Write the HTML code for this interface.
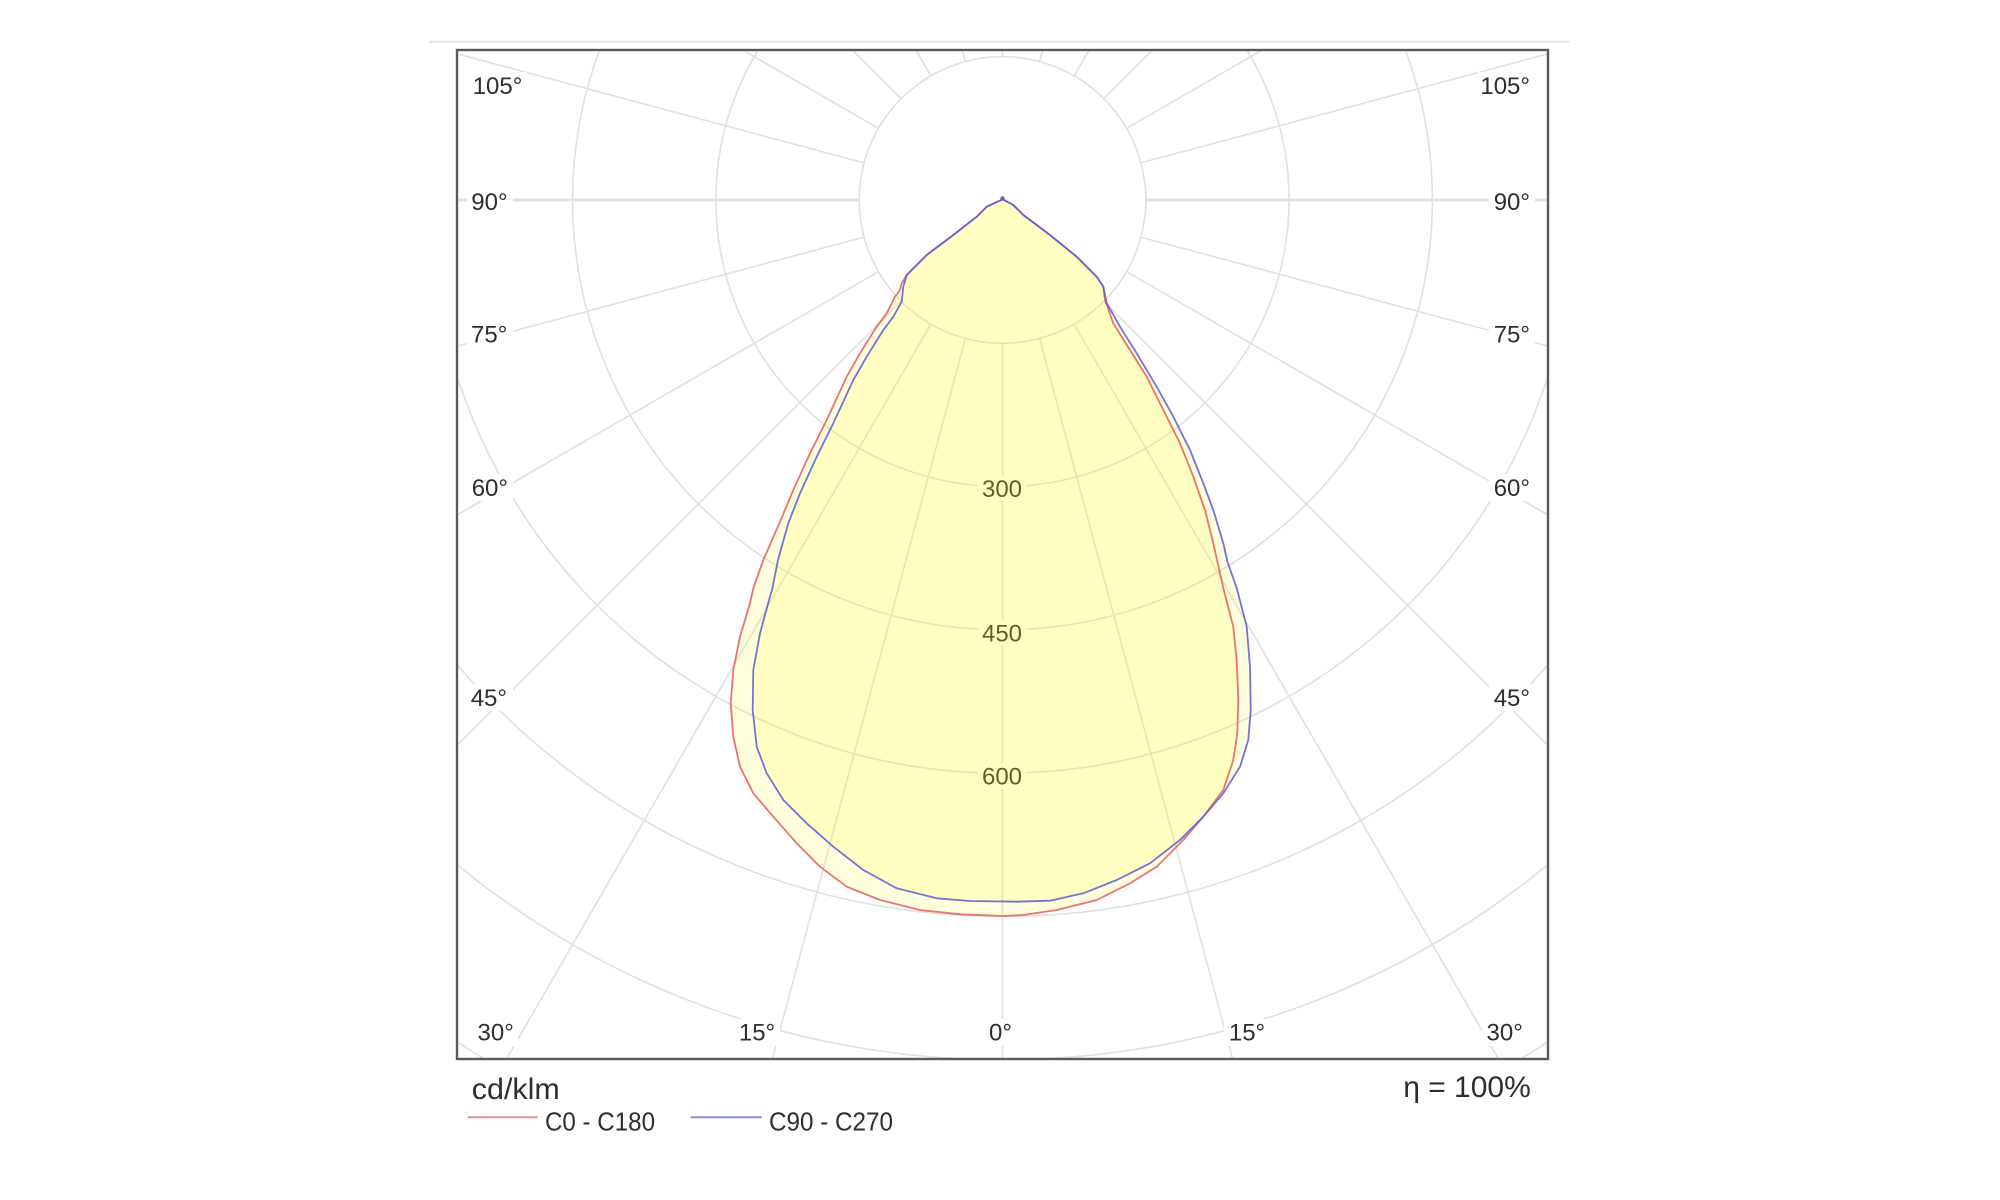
<!DOCTYPE html>
<html>
<head>
<meta charset="utf-8">
<style>
  html, body { margin: 0; padding: 0; background: #ffffff; width: 2000px; height: 1200px; overflow: hidden; }
  svg { display: block; }
  text { font-family: "Liberation Sans", Arial, sans-serif; fill: #2e2e2e; }
</style>
</head>
<body>
<svg width="2000" height="1200" viewBox="0 0 2000 1200" xmlns="http://www.w3.org/2000/svg">
  <defs>
    <clipPath id="box">
      <rect x="458" y="51" width="1089" height="1007"/>
    </clipPath>
    <polygon id="redp" points="
    1002.7,199.3 986.7,206.7 976.7,216.7 953.3,235 926.7,255 906.7,275 901.7,283.3
    900,290 895,296.7 886.7,313.3 876.7,326.7 860,353.3 846.7,376.7 826.7,420 810,453.3
    793.3,490 779.3,523.3 763.3,560 753.3,588.3 750,603.3 740,636.7 733.3,670 730.7,703.3
    733.3,736.7 740,766.7 753.3,793.3 773.3,816.7 796.7,843.3 820,866.7 846.7,886.7 880,900
    920,910 960,914.3 1003.3,916 1023.3,915 1056.7,910 1096.7,900 1130,883.3 1156.7,866.7
    1183.3,840 1203.3,816.7 1223.3,790 1233.3,760 1237.3,733.3 1238.3,700 1236.7,660
    1233.3,626.7 1223.3,588 1217.5,562 1213.3,543.3 1205,510 1193.3,476.7 1180,443.3
    1163.3,410 1146.7,376.7 1130,350 1113.3,323.3 1105,300
    1103.3,286.7 1096.7,276.7 1076.7,256.7 1050,235 1023.3,215 1013.3,205"/>
    <polygon id="bluep" points="
    1002.7,199.3 986.7,206.7 976.7,216.7 953.3,235 926.7,255 906.7,275 903.3,286.7
    901.7,301.7 893.3,316.7 883.3,330 866.7,356.7 853.3,380 833.3,423.3 816.7,456.7
    800,493.3 788.3,523.3 778,560 772,590 769,600 760,633.3 753.3,670 752.7,710
    756.7,746.7 766.7,773.3 783.3,800 806.7,823.3 833.3,846.7 863.3,870 896.7,888.3
    936.7,898.3 970,901 1016.7,901.7 1050,900.7 1083.3,893.3 1116.7,880 1150,863.3
    1180,840 1203.3,816.7 1223.3,793.3 1240,766.7 1248.3,740 1250.7,710 1250,666.7
    1246.7,626.7 1236.7,588 1227.5,562 1223.3,543.3 1213.3,510 1203.3,483.3 1190,450
    1173.3,416.7 1156.7,386.7 1136.7,353.3 1120,326.7 1106.7,303.3
    1103.3,286.7 1096.7,276.7 1076.7,256.7 1050,235 1023.3,215 1013.3,205"/>
  </defs>

  <rect x="0" y="0" width="2000" height="1200" fill="#ffffff"/>

  <!-- top separator -->
  <line x1="429" y1="41.7" x2="1570" y2="41.7" stroke="#e6e6e6" stroke-width="2"/>

  <!-- grid -->
  <g clip-path="url(#box)" fill="none" stroke="#e0e0e0" stroke-width="1.6">
    <circle cx="1002.5" cy="200" r="143.3"/>
    <circle cx="1002.5" cy="200" r="286.6"/>
    <circle cx="1002.5" cy="200" r="429.9"/>
    <circle cx="1002.5" cy="200" r="573.2"/>
    <circle cx="1002.5" cy="200" r="716.5"/>
    <circle cx="1002.5" cy="200" r="859.8"/>
    <path d="M457,1041.8 A1003.1,1003.1 0 0 0 484.5,1059 M1520.5,1059 A1003.1,1003.1 0 0 0 1548,1041.8"/>
    <path d="
      M1002.5,343.3 L1002.5,1059
      M965.4,338.4 L772.3,1059  M1039.6,338.4 L1232.7,1059
      M930.85,324.1 L506.5,1059  M1074.15,324.1 L1498.5,1059
      M901.2,301.3 L457,745.5  M1103.8,301.3 L1548,745.5
      M878.4,271.65 L457,515  M1126.6,271.65 L1548,515
      M864.1,237.1 L457,346.2  M1140.9,237.1 L1548,346.2
      M864.1,162.9 L457,53.8  M1140.9,162.9 L1548,53.8
      M878.4,128.35 L742.7,50  M1126.6,128.35 L1262.3,50
      M901.2,98.7 L852.5,50  M1103.8,98.7 L1152.5,50
      M930.85,75.9 L915.9,50  M1074.15,75.9 L1089.1,50
      M965.4,61.6 L962.3,50  M1039.6,61.6 L1042.7,50
      M1002.5,56.7 L1002.5,50"/>
    <path d="M859.2,200 L457,200 M1145.8,200 L1548,200" stroke="#e3e3e3" stroke-width="3"/>
  </g>

  <!-- label backgrounds -->
  <g fill="#ffffff">
    <rect x="467" y="72" width="60" height="27"/>
    <rect x="467" y="188" width="46" height="27"/>
    <rect x="467" y="320" width="46" height="27"/>
    <rect x="467" y="474" width="46" height="27"/>
    <rect x="467" y="684" width="46" height="27"/>

    <rect x="1477" y="72" width="58" height="27"/>
    <rect x="1489" y="188" width="46" height="27"/>
    <rect x="1489" y="320" width="46" height="27"/>
    <rect x="1489" y="474" width="46" height="27"/>
    <rect x="1489" y="684" width="46" height="27"/>

    <rect x="473" y="1019" width="45" height="27"/>
    <rect x="734" y="1019" width="46" height="27"/>
    <rect x="984" y="1019" width="33" height="27"/>
    <rect x="1224" y="1019" width="46" height="27"/>
    <rect x="1482" y="1019" width="45" height="27"/>

    <rect x="978" y="476" width="48" height="25"/>
    <rect x="978" y="620" width="48" height="25"/>
    <rect x="978" y="763" width="48" height="25"/>
  </g>

  <g font-size="24">
    <text x="472.7" y="94">105°</text>
    <text x="471.3" y="210">90°</text>
    <text x="471" y="342.7">75°</text>
    <text x="471.7" y="496">60°</text>
    <text x="470.7" y="706">45°</text>

    <text x="1530" y="94" text-anchor="end">105°</text>
    <text x="1530" y="210" text-anchor="end">90°</text>
    <text x="1530" y="342.7" text-anchor="end">75°</text>
    <text x="1530" y="496" text-anchor="end">60°</text>
    <text x="1530" y="706" text-anchor="end">45°</text>

    <text x="477.5" y="1040.7">30°</text>
    <text x="757" y="1040.7" text-anchor="middle">15°</text>
    <text x="1000.5" y="1040.7" text-anchor="middle">0°</text>
    <text x="1247" y="1040.7" text-anchor="middle">15°</text>
    <text x="1522.8" y="1040.7" text-anchor="end">30°</text>

    <text x="1002" y="497" text-anchor="middle">300</text>
    <text x="1002" y="641.5" text-anchor="middle">450</text>
    <text x="1002" y="784.5" text-anchor="middle">600</text>
  </g>

  <!-- curve fills (translucent, overlap darker) -->
  <use href="#redp" fill="#ffff00" fill-opacity="0.13" stroke="none"/>
  <use href="#bluep" fill="#ffff00" fill-opacity="0.13" stroke="none"/>

  <!-- curve outlines -->
  <use href="#redp" fill="none" stroke="#e65a5e" stroke-opacity="0.85" stroke-width="1.8" stroke-linejoin="round"/>
  <use href="#bluep" fill="none" stroke="#5a5ad8" stroke-opacity="0.85" stroke-width="1.8" stroke-linejoin="round"/>
  <circle cx="1002.5" cy="198.5" r="2.2" fill="#6a5acd"/>

  <!-- frame -->
  <rect x="457" y="50" width="1091" height="1009" fill="none" stroke="#5a5a5a" stroke-width="2.4"/>

  <!-- footer -->
  <text x="471.8" y="1099" font-size="30" textLength="88" lengthAdjust="spacingAndGlyphs">cd/klm</text>
  <text x="1530.8" y="1097" font-size="30" text-anchor="end">η = 100%</text>

  <line x1="467.6" y1="1117.3" x2="537.6" y2="1117.3" stroke="#ef9090" stroke-width="2"/>
  <text x="545" y="1130.7" font-size="26" textLength="110" lengthAdjust="spacingAndGlyphs">C0 - C180</text>
  <line x1="690.7" y1="1117.3" x2="761.5" y2="1117.3" stroke="#8c8cec" stroke-width="2"/>
  <text x="769" y="1130.7" font-size="26" textLength="124" lengthAdjust="spacingAndGlyphs">C90 - C270</text>
</svg>
</body>
</html>
